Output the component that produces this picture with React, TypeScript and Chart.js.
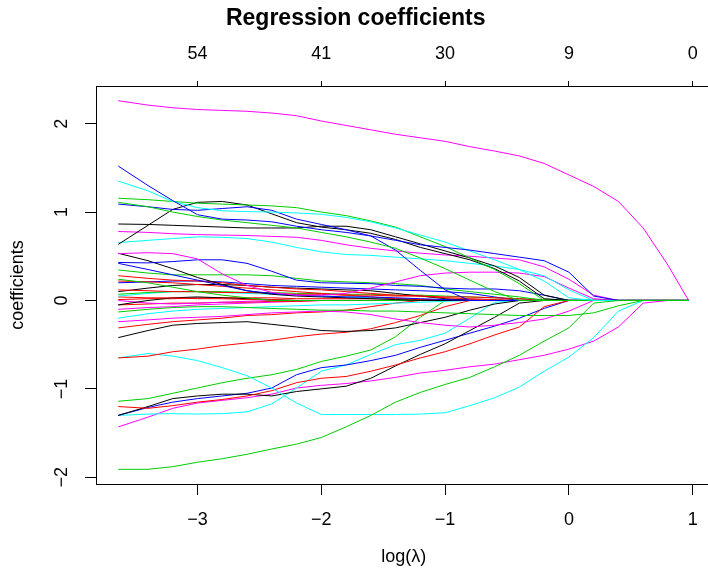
import React, { useEffect, useRef } from "react";
import { Chart, registerables } from "chart.js";

Chart.register(...registerables);

const FONT = '"Liberation Sans", Arial, Helvetica, sans-serif';

// log(lambda) grid of the coefficient path
const logLambda = [-3.64, -3.4, -3.2, -3.0, -2.8, -2.6, -2.4, -2.2, -2.0, -1.8, -1.6, -1.4, -1.2, -1.0, -0.8, -0.6, -0.4, -0.2, 0.0, 0.2, 0.4, 0.6, 0.8, 0.967];

// axis ticks
const xTicks = [-3, -2, -1, 0, 1];
const dfLabels = ["54", "41", "30", "9", "0"];
const yTicks = [-2, -1, 0, 1, 2];

// coefficient paths (one per variable)
const greenBottom = [-1.91, -1.91, -1.88, -1.83, -1.79, -1.74, -1.68, -1.625, -1.55, -1.43, -1.30, -1.15, -1.04, -0.95, -0.87, -0.75, -0.62, -0.46, -0.31, -0.03, 0, 0, 0, 0];
const magentaTop = [2.26, 2.21, 2.18, 2.16, 2.15, 2.14, 2.12, 2.09, 2.03, 1.98, 1.93, 1.88, 1.84, 1.80, 1.74, 1.69, 1.635, 1.55, 1.42, 1.29, 1.12, 0.82, 0.40, 0];
const blueR = [1.52, 1.30, 1.13, 0.97, 0.92, 0.91, 0.89, 0.84, 0.80, 0.77, 0.73, 0.68, 0.63, 0.60, 0.57, 0.53, 0.49, 0.45, 0.32, 0.05, 0, 0, 0, 0];
const cyanO = [1.35, 1.24, 1.12, 1.05, 1.015, 1.005, 1.00, 0.99, 0.975, 0.94, 0.89, 0.82, 0.74, 0.66, 0.56, 0.46, 0.35, 0.22, 0.03, 0, 0, 0, 0, 0];
const greenP = [1.156, 1.14, 1.12, 1.10, 1.09, 1.08, 1.07, 1.05, 1.00, 0.96, 0.90, 0.83, 0.72, 0.61, 0.48, 0.35, 0.19, 0, 0, 0, 0, 0, 0, 0];
const greenQ = [1.11, 1.06, 1.00, 0.95, 0.91, 0.88, 0.85, 0.82, 0.77, 0.72, 0.66, 0.59, 0.48, 0.36, 0.23, 0.10, 0, 0, 0, 0, 0, 0, 0, 0];
const blueS = [1.09, 1.06, 1.03, 1.02, 1.04, 1.06, 1.02, 0.92, 0.86, 0.80, 0.73, 0.57, 0.34, 0.12, 0, 0, 0, 0, 0, 0, 0, 0, 0, 0];
const blackN = [0.865, 0.86, 0.85, 0.84, 0.83, 0.82, 0.82, 0.82, 0.84, 0.84, 0.80, 0.72, 0.64, 0.56, 0.48, 0.39, 0.26, 0.06, 0, 0, 0, 0, 0, 0];
const blackM = [0.635, 0.85, 1.03, 1.11, 1.12, 1.08, 0.98, 0.88, 0.83, 0.80, 0.76, 0.69, 0.60, 0.53, 0.46, 0.36, 0.22, 0.02, 0, 0, 0, 0, 0, 0];
const magentaT = [0.78, 0.77, 0.755, 0.745, 0.74, 0.735, 0.725, 0.715, 0.68, 0.63, 0.59, 0.56, 0.535, 0.515, 0.50, 0.48, 0.46, 0.38, 0.24, 0.06, 0, 0, 0, 0];
const cyanV = [0.655, 0.68, 0.70, 0.72, 0.715, 0.70, 0.66, 0.60, 0.55, 0.52, 0.51, 0.49, 0.47, 0.45, 0.42, 0.39, 0.35, 0.28, 0.12, 0, 0, 0, 0, 0];
const magentaU = [0.53, 0.54, 0.53, 0.47, 0.30, 0.17, 0.09, 0.06, 0.06, 0.08, 0.14, 0.21, 0.28, 0.31, 0.32, 0.32, 0.31, 0.27, 0.14, 0.02, 0, 0, 0, 0];
const blueW = [0.43, 0.425, 0.44, 0.46, 0.46, 0.42, 0.33, 0.23, 0.20, 0.195, 0.19, 0.17, 0.16, 0.14, 0.13, 0.13, 0.11, 0.06, 0, 0, 0, 0, 0, 0];
const blueX = [0.42, 0.35, 0.29, 0.23, 0.17, 0.11, 0.08, 0.06, 0.05, 0.04, 0.04, 0.03, 0.02, 0.01, 0, 0, 0, 0, 0, 0, 0, 0, 0, 0];
const blackY = [0.534, 0.45, 0.36, 0.26, 0.18, 0.11, 0.07, 0.05, 0.04, 0.03, 0.02, 0.01, 0, 0, 0, 0, 0, 0, 0, 0, 0, 0, 0, 0];
const greenZ = [0.345, 0.31, 0.29, 0.29, 0.29, 0.29, 0.28, 0.25, 0.22, 0.21, 0.20, 0.19, 0.17, 0.13, 0.10, 0.07, 0.04, 0, 0, 0, 0, 0, 0, 0];
const greenAL = [0.24, 0.20, 0.15, 0.10, 0.06, 0.03, 0, 0, 0, 0, 0, 0, 0, 0, 0, 0, 0, 0, 0, 0, 0, 0, 0, 0];
const redAB = [0.28, 0.25, 0.23, 0.22, 0.20, 0.17, 0.15, 0.13, 0.12, 0.10, 0.08, 0.06, 0.05, 0.03, 0.02, 0.01, 0, 0, 0, 0, 0, 0, 0, 0];
const redAC = [0.22, 0.21, 0.20, 0.18, 0.16, 0.14, 0.12, 0.10, 0.08, 0.06, 0.04, 0.02, 0.01, 0, 0, 0, 0, 0, 0, 0, 0, 0, 0, 0];
const redAD = [0.12, 0.11, 0.10, 0.10, 0.09, 0.09, 0.08, 0.07, 0.07, 0.06, 0.06, 0.05, 0.05, 0.04, 0.04, 0.03, 0.02, 0, 0, 0, 0, 0, 0, 0];
const blackAF = [0.10, 0.14, 0.17, 0.18, 0.18, 0.17, 0.15, 0.14, 0.13, 0.12, 0.11, 0.08, 0.05, 0.02, 0, 0, 0, 0, 0, 0, 0, 0, 0, 0];
const blueAK = [0.20, 0.21, 0.22, 0.22, 0.21, 0.19, 0.17, 0.16, 0.15, 0.14, 0.13, 0.12, 0.11, 0.10, 0.08, 0.04, 0, 0, 0, 0, 0, 0, 0, 0];
const greenAM = [0.07, 0.09, 0.10, 0.10, 0.10, 0.09, 0.09, 0.08, 0.08, 0.07, 0.07, 0.06, 0.06, 0.05, 0.04, 0.03, 0.02, 0.01, 0, 0, 0, 0, 0, 0];
const cyanAH = [0.05, 0.08, 0.10, 0.10, 0.09, 0.08, 0.07, 0.06, 0.05, 0.04, 0.03, 0.01, 0, 0, 0, 0, 0, 0, 0, 0, 0, 0, 0, 0];
const redAE = [0.04, 0.03, 0.03, 0.02, 0.02, 0.01, 0.01, 0, 0, 0, 0, 0, 0, 0, 0, 0, 0, 0, 0, 0, 0, 0, 0, 0];
const blackAG = [-0.05, 0.0, 0.03, 0.04, 0.03, 0.02, 0.01, 0, 0, 0, 0, 0, 0, 0, 0, 0, 0, 0, 0, 0, 0, 0, 0, 0];
const magentaAJ = [0.0, -0.03, -0.04, -0.03, -0.02, -0.01, 0, 0, 0, 0, 0, 0, 0, 0, 0, 0, 0, 0, 0, 0, 0, 0, 0, 0];
const redAN = [-0.05, -0.04, -0.03, -0.03, -0.02, -0.02, -0.01, -0.01, 0, 0, 0, 0, 0, 0, 0, 0, 0, 0, 0, 0, 0, 0, 0, 0];
const redAO = [0.01, 0.02, 0.02, 0.03, 0.03, 0.03, 0.03, 0.02, 0.02, 0.02, 0.02, 0.02, 0.01, 0.01, 0.01, 0, 0, 0, 0, 0, 0, 0, 0, 0];
const magentaAP = [-0.10, -0.08, -0.07, -0.05, -0.04, -0.03, -0.02, -0.01, 0, 0, 0, 0, 0, 0, 0, 0, 0, 0, 0, 0, 0, 0, 0, 0];
const cyanAI = [-0.20, -0.15, -0.12, -0.10, -0.09, -0.08, -0.07, -0.06, -0.05, -0.05, -0.04, -0.03, -0.02, -0.01, 0, 0, 0, 0, 0, 0, 0, 0, 0, 0];
const greenL = [-0.13, -0.10, -0.08, -0.07, -0.07, -0.08, -0.09, -0.10, -0.11, -0.11, -0.12, -0.12, -0.13, -0.14, -0.15, -0.16, -0.17, -0.17, -0.17, -0.14, -0.06, 0, 0, 0];
const magentaK = [-0.24, -0.22, -0.20, -0.19, -0.18, -0.16, -0.14, -0.13, -0.12, -0.13, -0.16, -0.21, -0.25, -0.28, -0.30, -0.28, -0.25, -0.21, -0.12, 0, 0, 0, 0, 0];
const redJ = [-0.31, -0.27, -0.24, -0.22, -0.20, -0.17, -0.16, -0.14, -0.13, -0.11, -0.07, -0.03, 0, 0, 0, 0, 0, 0, 0, 0, 0, 0, 0, 0];
const blackI = [-0.42, -0.34, -0.28, -0.26, -0.25, -0.24, -0.27, -0.30, -0.34, -0.35, -0.34, -0.31, -0.25, -0.19, -0.11, -0.04, 0, 0, 0, 0, 0, 0, 0, 0];
const redH = [-0.65, -0.63, -0.58, -0.55, -0.51, -0.48, -0.45, -0.41, -0.38, -0.36, -0.32, -0.25, -0.17, -0.07, 0, 0, 0, 0, 0, 0, 0, 0, 0, 0];
const cyanA = [-0.65, -0.60, -0.63, -0.68, -0.76, -0.85, -0.99, -1.16, -1.29, -1.29, -1.29, -1.29, -1.285, -1.27, -1.19, -1.10, -0.98, -0.80, -0.64, -0.42, -0.12, 0, 0, 0];
const greenG = [-1.14, -1.11, -1.05, -0.99, -0.93, -0.88, -0.84, -0.78, -0.69, -0.63, -0.56, -0.41, -0.19, 0, 0, 0, 0, 0, 0, 0, 0, 0, 0, 0];
const redE = [-1.20, -1.22, -1.19, -1.15, -1.12, -1.08, -1.02, -0.93, -0.88, -0.86, -0.80, -0.73, -0.65, -0.58, -0.49, -0.39, -0.30, -0.07, 0, 0, 0, 0, 0, 0];
const blackC = [-1.30, -1.20, -1.11, -1.08, -1.06, -1.06, -1.08, -1.03, -1.00, -0.97, -0.88, -0.74, -0.61, -0.49, -0.34, -0.19, -0.03, 0, 0, 0, 0, 0, 0, 0];
const blueD = [-1.30, -1.21, -1.15, -1.11, -1.08, -1.05, -0.99, -0.84, -0.76, -0.73, -0.68, -0.62, -0.53, -0.45, -0.37, -0.29, -0.20, -0.09, 0, 0, 0, 0, 0, 0];
const cyanB = [-1.30, -1.285, -1.28, -1.285, -1.28, -1.26, -1.17, -0.99, -0.80, -0.73, -0.61, -0.50, -0.45, -0.37, -0.20, -0.02, 0, 0, 0, 0, 0, 0, 0, 0];
const magentaF = [-1.43, -1.32, -1.22, -1.16, -1.13, -1.10, -1.06, -0.99, -0.96, -0.94, -0.91, -0.87, -0.82, -0.79, -0.75, -0.72, -0.67, -0.62, -0.55, -0.46, -0.30, -0.03, 0, 0];

const BLACK = "#000000";
const RED = "#FF0000";
const GREEN = "#00CD00";
const BLUE = "#0000FF";
const CYAN = "#00FFFF";
const MAGENTA = "#FF00FF";

// first entry is drawn on top
const paths: [number[], string][] = [
  [greenBottom, GREEN],
  [greenL, GREEN],
  [magentaTop, MAGENTA],
  [blueR, BLUE],
  [cyanO, CYAN],
  [greenP, GREEN],
  [greenQ, GREEN],
  [blueS, BLUE],
  [blackN, BLACK],
  [blackM, BLACK],
  [magentaT, MAGENTA],
  [cyanV, CYAN],
  [magentaU, MAGENTA],
  [blueW, BLUE],
  [blueX, BLUE],
  [blackY, BLACK],
  [greenZ, GREEN],
  [greenAL, GREEN],
  [redAB, RED],
  [redAC, RED],
  [redAD, RED],
  [blackAF, BLACK],
  [blueAK, BLUE],
  [greenAM, GREEN],
  [cyanAH, CYAN],
  [redAE, RED],
  [blackAG, BLACK],
  [magentaAJ, MAGENTA],
  [redAN, RED],
  [redAO, RED],
  [magentaAP, MAGENTA],
  [cyanAI, CYAN],
  [magentaK, MAGENTA],
  [redJ, RED],
  [blackI, BLACK],
  [redH, RED],
  [cyanA, CYAN],
  [greenG, GREEN],
  [redE, RED],
  [blackC, BLACK],
  [blueD, BLUE],
  [cyanB, CYAN],
  [magentaF, MAGENTA],
];

const fmt = (v: number) => (v < 0 ? "\u2212" + Math.abs(v) : String(v));

const rotatedYTickLabels = {
  id: "rotatedYTickLabels",
  afterDraw(chart: any) {
    const s = chart.scales.y;
    const ctx = chart.ctx;
    ctx.save();
    ctx.font = `18px ${FONT}`;
    ctx.fillStyle = "#000";
    ctx.textAlign = "center";
    ctx.textBaseline = "middle";
    s.ticks.forEach((t: any) => {
      const py = s.getPixelForValue(t.value);
      ctx.save();
      ctx.translate(s.right - 34, py);
      ctx.rotate(-Math.PI / 2);
      ctx.fillText(fmt(t.value), 0, 0);
      ctx.restore();
    });
    ctx.restore();
  },
};

export default function App() {
  const ref = useRef<HTMLCanvasElement | null>(null);

  useEffect(() => {
    const canvas = ref.current;
    if (!canvas) return;
    const datasets = paths.map(([vals, color]) => ({
      data: logLambda.map((x, i) => ({ x, y: vals[i] })),
      borderColor: color,
      backgroundColor: color,
      borderWidth: 1,
      pointRadius: 0,
      tension: 0,
      fill: false,
    }));
    const gridTicks = (len: number) => ({
      display: true,
      drawOnChartArea: false,
      drawTicks: true,
      tickLength: len,
      color: "#000",
      lineWidth: 1,
    });
    const chart = new Chart(canvas, {
      type: "line",
      data: { datasets },
      plugins: [rotatedYTickLabels],
      options: {
        responsive: false,
        maintainAspectRatio: false,
        animation: false,
        devicePixelRatio: 1,
        events: [],
        layout: { padding: { left: 0, right: 5.6, top: 0, bottom: 0 } },
        plugins: {
          legend: { display: false },
          tooltip: { enabled: false },
          title: {
            display: true,
            text: "Regression coefficients",
            color: "#000",
            font: { family: FONT, size: 23, weight: "bold", lineHeight: 1.2 },
            padding: { top: 5, bottom: 0 },
          },
        },
        scales: {
          x: {
            type: "linear",
            position: "bottom",
            min: -3.82,
            max: 1.151,
            afterBuildTicks: (s: any) => {
              s.ticks = xTicks.map((v) => ({ value: v }));
            },
            afterFit: (s: any) => {
              s.height = 86;
            },
            ticks: {
              autoSkip: false,
              maxRotation: 0,
              color: "#000",
              padding: 14,
              font: { family: FONT, size: 18, lineHeight: 1.2 },
              callback: (v: any) => fmt(Number(v)),
            },
            grid: gridTicks(11),
            border: { display: true, color: "#000", width: 1 },
            title: {
              display: true,
              text: "log(\u03bb)",
              color: "#000",
              font: { family: FONT, size: 18, lineHeight: 1.2 },
              padding: { top: 0, bottom: 2 },
            },
          },
          x2: {
            type: "linear",
            position: "top",
            min: -3.82,
            max: 1.151,
            afterBuildTicks: (s: any) => {
              s.ticks = xTicks.map((v) => ({ value: v }));
            },
            afterFit: (s: any) => {
              s.height = 53.4;
            },
            ticks: {
              autoSkip: false,
              maxRotation: 0,
              color: "#000",
              padding: 16,
              font: { family: FONT, size: 18, lineHeight: 1.2 },
              callback: (_v: any, i: number) => dfLabels[i],
            },
            grid: gridTicks(5),
            border: { display: true, color: "#000", width: 1 },
          },
          y: {
            type: "linear",
            position: "left",
            min: -2.076,
            max: 2.426,
            afterBuildTicks: (s: any) => {
              s.ticks = yTicks.map((v) => ({ value: v }));
            },
            afterFit: (s: any) => {
              s.width = 96;
            },
            ticks: { display: false },
            grid: gridTicks(11),
            border: { display: true, color: "#000", width: 1 },
            title: {
              display: true,
              text: "coefficients",
              color: "#000",
              font: { family: FONT, size: 18, lineHeight: 1.2 },
              padding: { top: 7, bottom: 0 },
            },
          },
        },
      } as any,
    });
    return () => chart.destroy();
  }, []);

  return (
    <div
      style={{
        position: "fixed",
        left: 0,
        top: 0,
        width: 708,
        height: 570,
        overflow: "hidden",
        background: "#fff",
      }}
    >
      <canvas ref={ref} width={717} height={570} style={{ display: "block", width: 717, height: 570 }} />
    </div>
  );
}
